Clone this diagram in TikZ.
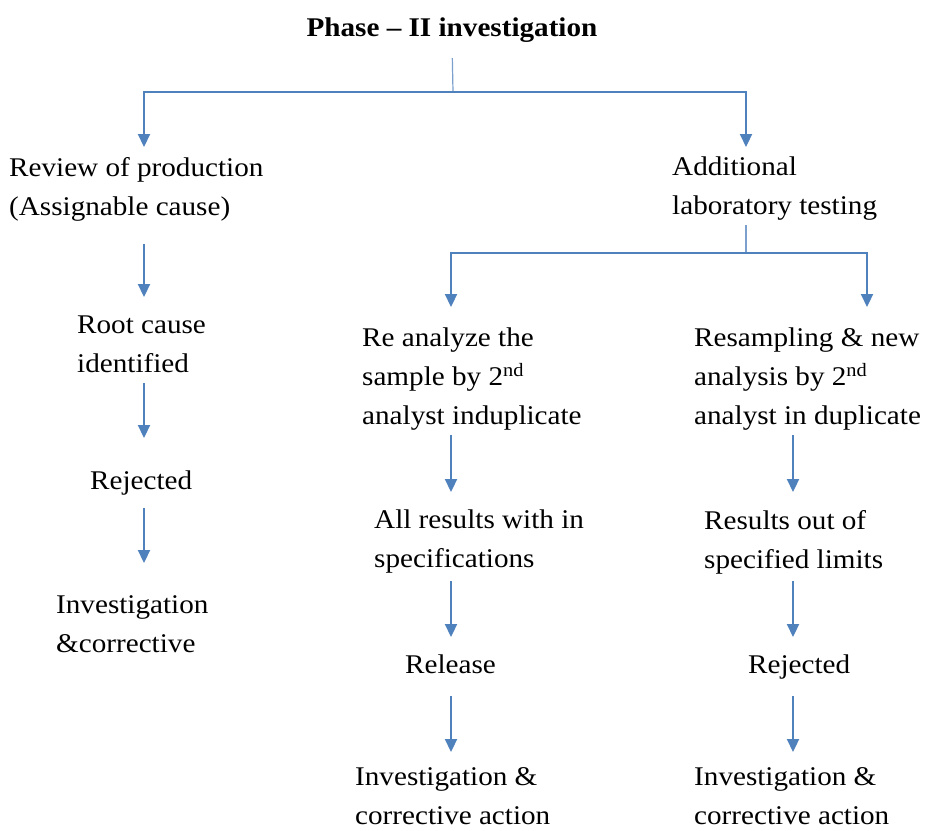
\documentclass[tikz,border=0pt]{standalone}
\usepackage{fontspec}
\setmainfont{Liberation Serif}[FakeStretch=1.08]
\usetikzlibrary{arrows.meta,positioning,calc}
\definecolor{flowblue}{HTML}{4F81BD}
\tikzset{
  stage/.style={
    inner sep=0pt,
    anchor=north west,
    align=left,
    font=\fontsize{27}{39}\selectfont
  },
  heading/.style={inner sep=0pt, font=\fontsize{27}{33}\selectfont\bfseries},
  link/.style={-{Triangle[length=13pt,width=12pt]}, line width=2.2pt, draw=flowblue},
  stem/.style={line width=1.2pt, draw=flowblue!75}
}
\begin{document}
\begin{tikzpicture}[x=1pt, y=-1pt]
  \useasboundingbox (0,0) rectangle (928,830);
  \coordinate (colL) at (144,0);
  \coordinate (colM) at (451,0);
  \coordinate (colR) at (793,0);
  \coordinate (colAR) at (746,0);
  \coordinate (colFR) at (867,0);

  \node[heading, anchor=base] (phase) at (452,36) {Phase -- II investigation};
  \node[stage] (review) at (9,157) {Review of production\\(Assignable cause)};
  \node[stage] (extra) at (672,157) {Additional\\laboratory testing};
  \node[stage] (rootcause) at (77,316) {Root cause\\identified};
  \node[stage] (rejectA) at (90,471) {Rejected};
  \node[stage] (investA) at (56,595) {Investigation\\\&corrective};
  \node[stage] (reanalyze) at (362,328) {Re analyze the\\sample by 2\textsuperscript{nd}\\analyst induplicate};
  \node[stage] (resample) at (694,328) {Resampling \& new\\analysis by 2\textsuperscript{nd}\\analyst in duplicate};
  \node[stage] (withinspec) at (374,510) {All results with in\\specifications};
  \node[stage] (outspec) at (704,510) {Results out of\\specified limits};
  \node[stage] (release) at (405,655) {Release};
  \node[stage] (rejectB) at (748,655) {Rejected};
  \node[stage] (investB) at (355,767) {Investigation \&\\corrective action};
  \node[stage] (investC) at (694,767) {Investigation \&\\corrective action};

  \coordinate (hubA) at (453,92);
  \coordinate (hubB) at (746,253);

  % top split
  \draw[stem, shorten <=16pt] (phase.south) -- (hubA);
  \draw[link, shorten >=10pt] (hubA) -| (review.north -| colL);
  \draw[link, shorten >=10pt] (hubA) -| (extra.north -| colAR);

  % assignable cause branch
  \draw[link, shorten <=23pt, shorten >=19pt] (review.south -| colL) -- (rootcause.north -| colL);
  \draw[link, shorten <=10pt, shorten >=33pt] (rootcause.south -| colL) -- (rejectA.north -| colL);
  \draw[link, shorten <=12pt, shorten >=32pt] (rejectA.south -| colL) -- (investA.north -| colL);

  % laboratory testing split
  \draw[stem, shorten <=4pt] (extra.south -| colAR) -- (hubB);
  \draw[link, shorten >=21pt] (hubB) -| (reanalyze.north -| colM);
  \draw[link, shorten >=21pt] (hubB) -| (resample.north -| colFR);

  \draw[link, shorten <=4pt, shorten >=18pt] (reanalyze.south -| colM) -- (withinspec.north -| colM);
  \draw[link, shorten <=7pt, shorten >=18pt] (withinspec.south -| colM) -- (release.north -| colM);
  \draw[link, shorten <=22pt, shorten >=15pt] (release.south -| colM) -- (investB.north -| colM);

  \draw[link, shorten <=4pt, shorten >=18pt] (resample.south -| colR) -- (outspec.north -| colR);
  \draw[link, shorten <=7pt, shorten >=18pt] (outspec.south -| colR) -- (rejectB.north -| colR);
  \draw[link, shorten <=16pt, shorten >=15pt] (rejectB.south -| colR) -- (investC.north -| colR);
\end{tikzpicture}
\end{document}
